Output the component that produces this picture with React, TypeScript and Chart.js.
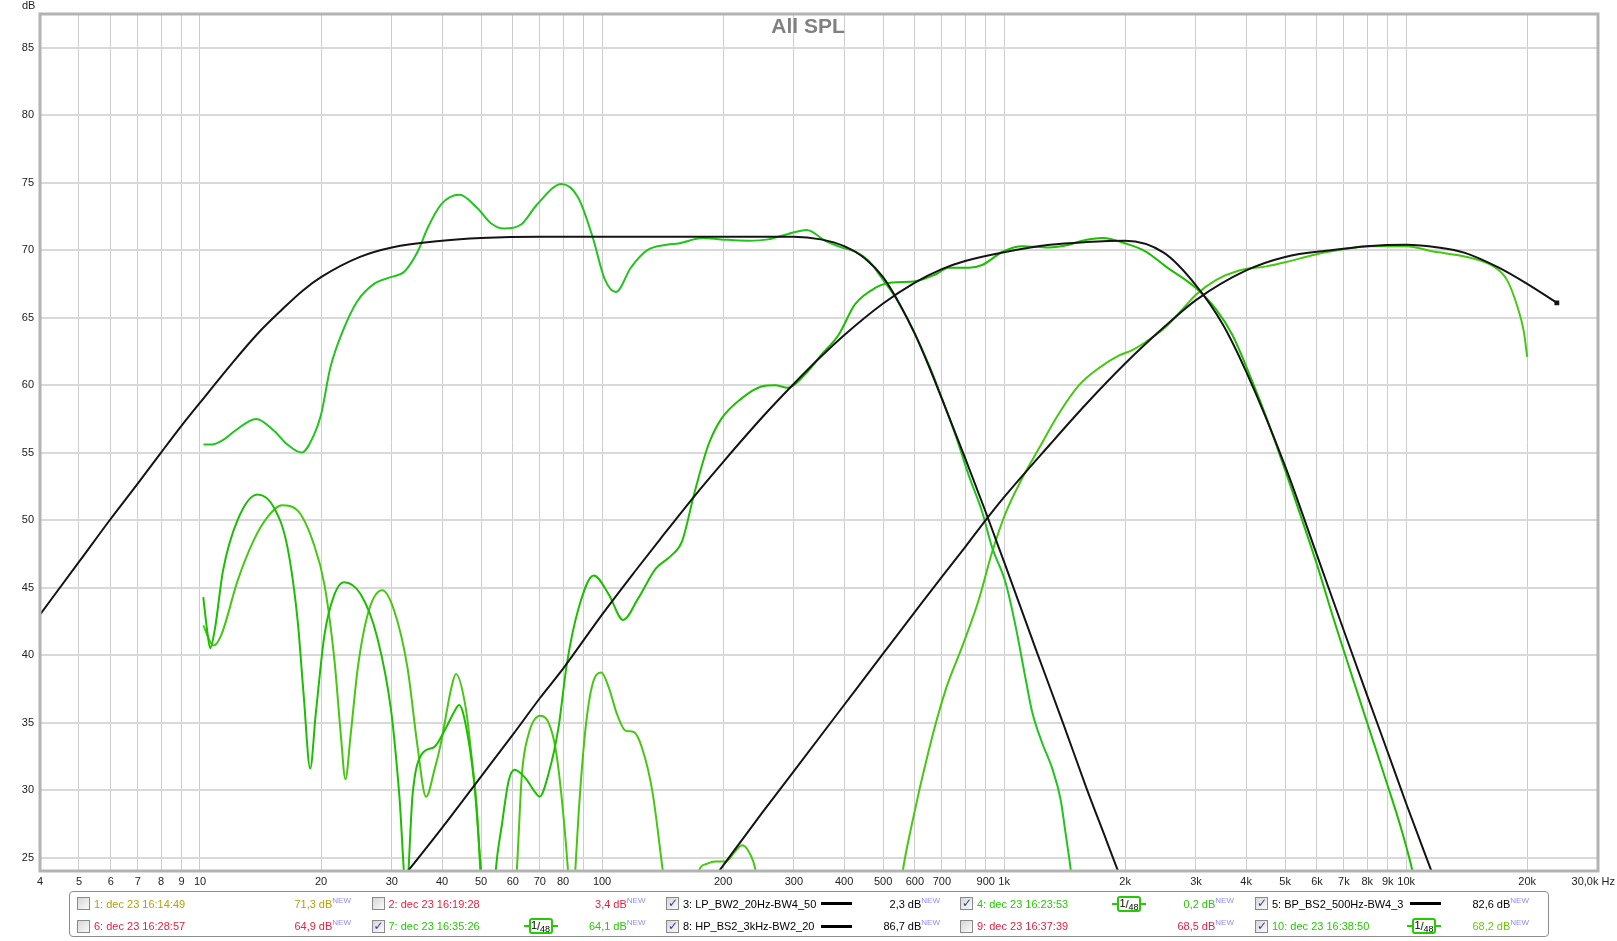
import React, { useEffect, useRef } from 'react';
import { Chart, registerables } from 'chart.js';

Chart.register(...registerables);

const W = 1617;
const H = 941;
const FONT = '"Liberation Sans", Arial, sans-serif';

// ---------- axes ----------
const xGridValues = [4, 5, 6, 7, 8, 9, 10, 20, 30, 40, 50, 60, 70, 80, 90, 100, 200, 300, 400, 500, 600, 700, 800, 900, 1000, 2000, 3000, 4000, 5000, 6000, 7000, 8000, 9000, 10000, 20000, 30000];
const xLabelValues = [4, 5, 6, 7, 8, 9, 10, 20, 30, 40, 50, 60, 70, 80, 100, 200, 300, 400, 500, 600, 700, 900, 1000, 2000, 3000, 4000, 5000, 6000, 7000, 8000, 9000, 10000, 20000];
const xLabelTexts = ['4', '5', '6', '7', '8', '9', '10', '20', '30', '40', '50', '60', '70', '80', '100', '200', '300', '400', '500', '600', '700', '900', '1k', '2k', '3k', '4k', '5k', '6k', '7k', '8k', '9k', '10k', '20k'];
const xEndLabel = '30,0k Hz';
const yTickValues = [25, 30, 35, 40, 45, 50, 55, 60, 65, 70, 75, 80, 85];

// ---------- series: 3: LP_BW2_20Hz-BW4_500 (black) ----------
const lpFreq = [4, 5, 6, 7, 8, 9, 10, 12, 14, 16, 18, 20, 25, 30, 40, 50, 70, 100, 150, 200, 250, 300, 350, 400, 450, 500, 550, 600, 650, 700, 800, 900, 1000, 1200, 1400, 1600, 1800, 2000];
const lpDb = [43.0, 46.9, 50.1, 52.7, 55.0, 57.0, 58.7, 61.6, 63.9, 65.6, 67.0, 68.0, 69.5, 70.2, 70.7, 70.9, 71.0, 71.0, 71.0, 71.0, 71.0, 71.0, 70.8, 70.3, 69.4, 68.0, 66.0, 63.8, 61.4, 59.0, 54.6, 50.6, 46.9, 40.4, 35.0, 30.2, 26.2, 22.6];

// ---------- 5: BP_BS2_500Hz-BW4_3k (black) ----------
const bpFreq = [30, 40, 50, 60, 70, 80, 100, 120, 140, 170, 200, 250, 300, 350, 400, 500, 600, 700, 800, 1000, 1300, 1600, 2000, 2500, 3000, 3500, 4000, 5000, 6000, 7000, 8000, 9000, 10000, 11000, 12000];
const bpDb = [22.5, 27.2, 31.0, 34.1, 36.8, 39.0, 43.0, 46.1, 48.65, 51.8, 54.3, 57.6, 60.1, 62.1, 63.7, 66.05, 67.6, 68.6, 69.2, 69.85, 70.4, 70.6, 70.7, 69.8, 67.4, 64.5, 61.0, 54.0, 47.4, 41.8, 37.0, 32.8, 29.0, 25.7, 22.7];

// ---------- 8: HP_BS2_3kHz-BW2_20k (black) ----------
const hpFreq = [190, 200, 250, 300, 400, 500, 600, 700, 800, 900, 1000, 1300, 1600, 2000, 2500, 3000, 4000, 5000, 6500, 8000, 10000, 12000, 14000, 17000, 20000, 23700];
const hpDb = [23.5, 24.4, 28.3, 31.4, 36.3, 40.1, 43.2, 45.8, 48.0, 50.0, 51.7, 55.6, 58.6, 61.6, 64.3, 66.3, 68.5, 69.5, 70.0, 70.3, 70.4, 70.2, 69.8, 68.7, 67.5, 66.1];

// ---------- 4: dec 23 16:23:53 (green, woofer) ----------
const aFreq = [10.2, 10.7, 11.5, 12.2, 13.8, 15.3, 16.5, 17.9, 19.2, 20.0, 21.1, 22.8, 24.6, 27.1, 29.8, 32.2, 34.8, 36.9, 39.8, 44.2, 49.0, 52.9, 57.1, 62.9, 69.0, 79.3, 87.2, 94.9, 101.4, 108.3, 117.9, 129.6, 145, 155, 178, 198, 231, 259, 290, 323, 359, 395, 427, 461, 497, 537, 591, 650, 701, 757, 817, 882, 933, 1008, 1067, 1130, 1174, 1243, 1317, 1382, 1422, 1463, 1500];
const aDb = [55.6, 55.6, 56.0, 56.6, 57.5, 56.6, 55.6, 55.0, 56.3, 57.8, 61.3, 64.2, 66.2, 67.5, 68.0, 68.4, 69.9, 71.7, 73.4, 74.1, 73.1, 72.0, 71.6, 71.9, 73.4, 74.9, 73.9, 70.9, 67.9, 66.9, 68.7, 70.0, 70.4, 70.5, 70.9, 70.8, 70.7, 70.8, 71.2, 71.5, 70.7, 70.2, 69.9, 69.2, 67.9, 66.5, 64.2, 61.5, 59.0, 56.3, 53.3, 50.6, 48.0, 45.4, 42.2, 38.3, 35.8, 33.5, 31.6, 29.3, 26.8, 24.2, 21.5];

// ---------- 7: dec 23 16:35:26 (green, mid) ----------
const bFreq = [10.19, 10.4, 10.6, 10.9, 11.4, 12.4, 13.9, 15.3, 16.5, 17.5, 18.1, 18.8, 19.4, 20.4, 21.6, 22.8, 25.1, 27.6, 29.9, 31.3, 32.6, 33.8, 35.5, 38.3, 40.9, 42.9, 44.1, 46.6, 48.3, 50.0, 52, 53, 54.2, 56.4, 58.6, 60.6, 64.4, 68.3, 69.9, 73.6, 77.9, 81.8, 87.5, 95.3, 103.9, 112.8, 123, 136, 149, 158, 170, 184, 198, 222, 249, 269, 290, 320, 352, 387, 426, 478, 526, 601, 675, 728, 817, 882, 994, 1109, 1292, 1449, 1564, 1756, 2004, 2251, 2523, 3000, 3371, 3700, 4075, 4492, 5000, 5440, 6000, 6580, 7000, 7976, 9000, 9660, 10330, 10700];
const bDb = [44.3, 42.0, 40.5, 42.0, 46.2, 50.0, 51.9, 50.9, 48.0, 42.5, 37.1, 31.6, 35.6, 41.5, 44.5, 45.4, 44.5, 41.3, 35.8, 29.7, 22.5, 29.7, 32.6, 33.2, 34.6, 35.8, 36.3, 33.6, 29.9, 24.0, 18, 18, 23.5, 27.5, 30.7, 31.5, 30.9, 29.8, 29.5, 31.2, 34.6, 39.4, 43.5, 45.9, 44.5, 42.6, 44.2, 46.4, 47.4, 48.4, 52.1, 55.6, 57.5, 59.0, 59.9, 60.0, 59.8, 60.8, 62.3, 63.7, 66.0, 67.2, 67.6, 67.7, 68.2, 68.7, 68.7, 68.9, 69.9, 70.3, 70.2, 70.4, 70.7, 70.9, 70.5, 69.9, 68.8, 67.2, 65.6, 63.7, 60.8, 57.6, 53.7, 50.5, 46.7, 42.8, 40.3, 35.1, 30.3, 27.4, 24.2, 22.0];

// ---------- 10: dec 23 16:38:50 (green, tweeter) ----------
const tFreq = [10.19, 10.8, 11.3, 12.4, 13.6, 14.7, 16.0, 17.5, 19.2, 20.4, 21.6, 22.4, 23.0, 23.7, 24.7, 26.3, 28.4, 30.4, 32.8, 34.7, 36.5, 38.3, 39.7, 42.2, 43.3, 45.8, 47.4, 48.8, 49.6, 51, 58, 61.2, 63.2, 65.6, 70.2, 73.6, 76.6, 79.5, 82.3, 84, 85, 87.5, 91, 94.6, 99.6, 103.9, 109, 114.3, 119.9, 125.8, 133.4, 141.6, 150, 165, 174, 181, 191, 203, 215, 223, 232, 241, 255, 400, 530, 557, 589, 649, 715, 786, 865, 933, 1008, 1109, 1220, 1369, 1536, 1727, 1933, 2084, 2250, 2523, 2831, 3000, 3371, 3841, 4492, 5000, 5985, 7100, 7976, 10000, 11700, 14170, 16500, 17810, 18870, 19610, 20000];
const tDb = [42.2, 40.7, 41.5, 45.5, 48.5, 50.2, 51.1, 50.7, 48.2, 45.2, 39.6, 34.1, 30.8, 34.1, 39.1, 43.3, 44.8, 43.3, 39.1, 33.4, 29.5, 31.5, 33.4, 37.6, 38.6, 36.1, 32.4, 28.7, 25.0, 18, 18, 23.5, 31.2, 34.1, 35.5, 35.0, 33.1, 29.2, 24.0, 20, 22, 28.4, 34.6, 37.8, 38.7, 37.6, 35.6, 34.4, 34.3, 33.1, 29.9, 24.0, 18, 18, 24.0, 24.5, 24.7, 24.7, 25.5, 25.9, 25.4, 24.0, 18, 5, 18, 23.6, 27.4, 32.9, 37.4, 40.6, 44.1, 47.6, 50.5, 53.1, 55.3, 57.9, 60.0, 61.3, 62.2, 62.6, 63.2, 64.3, 65.9, 66.7, 67.8, 68.5, 68.8, 69.1, 69.7, 70.1, 70.3, 70.3, 69.9, 69.5, 68.8, 67.8, 65.9, 64.0, 62.1];

// ---------- legend ----------
const legendLabels = [
  '1: dec 23 16:14:49', '2: dec 23 16:19:28', '3: LP_BW2_20Hz-BW4_50', '4: dec 23 16:23:53', '5: BP_BS2_500Hz-BW4_3',
  '6: dec 23 16:28:57', '7: dec 23 16:35:26', '8: HP_BS2_3kHz-BW2_20', '9: dec 23 16:37:39', '10: dec 23 16:38:50',
];
const legendValues = ['71,3 dB', '3,4 dB', '2,3 dB', '0,2 dB', '82,6 dB', '64,9 dB', '64,1 dB', '86,7 dB', '68,5 dB', '68,2 dB'];
const legendChecked = [false, false, true, true, true, false, true, true, false, true];
const legendColors = ['#b3a100', '#ee1c3c', '#000000', '#22cc00', '#000000', '#ee1c3c', '#22cc00', '#000000', '#ee1c3c', '#22cc00'];
const legendValueColors = ['#b3a100', '#ee1c3c', '#000000', '#22cc00', '#000000', '#ee1c3c', '#22cc00', '#000000', '#ee1c3c', '#66cc00'];
const legendMarks = ['', '', 'line', 'badge', 'line', '', 'badge', 'line', '', 'badge'];

const LEG_COL_X = [77, 371.5, 666, 960, 1255];
const LEG_ROW_Y = [903.5, 926];

const zip = (f: number[], d: number[]) => f.map((x, i) => ({ x, y: d[i] }));

const xLabelFor = (v: number) => {
  const i = xLabelValues.indexOf(v);
  return i >= 0 ? xLabelTexts[i] : '';
};

const framePlugin = {
  id: 'frame',
  afterDraw(chart: any) {
    const { ctx, chartArea: a } = chart;
    ctx.save();
    ctx.strokeStyle = '#b3b3b3';
    ctx.lineWidth = 3;
    ctx.strokeRect(a.left, a.top, a.right - a.left, a.bottom - a.top);
    ctx.restore();
  },
};

function CheckBox({ checked, x, y }: { checked: boolean; x: number; y: number }) {
  return (
    <div
      style={{
        position: 'absolute', left: x, top: y, width: 11, height: 11,
        border: '1px solid #8a8a8a', background: 'linear-gradient(135deg,#d6d6d6,#fbfbfb)',
      }}
    >
      {checked && (
        <span style={{ position: 'absolute', left: 1, top: -2, fontSize: 12, lineHeight: '14px', fontWeight: 'bold', fontFamily: '"DejaVu Sans", sans-serif', color: '#2b3f93' }}>✓</span>
      )}
    </div>
  );
}

function Badge({ x, cy }: { x: number; cy: number }) {
  return (
    <div style={{ position: 'absolute', left: x, top: cy - 8, width: 34, height: 16 }}>
      <div style={{ position: 'absolute', left: 0, right: 0, top: 7, height: 2, background: '#22cc00' }} />
      <div
        style={{
          position: 'absolute', left: 5, top: 0, width: 20, height: 12, border: '2px solid #22cc00', borderRadius: 3,
          background: '#fff', fontSize: 9, lineHeight: '12px', textAlign: 'center', color: '#000', fontFamily: FONT, whiteSpace: 'nowrap',
        }}
      >
        <span style={{ fontSize: 11, position: 'relative', top: -1 }}>1</span>
        <span style={{ fontSize: 11 }}>/</span>
        <span style={{ position: 'relative', top: 2 }}>48</span>
      </div>
    </div>
  );
}

export default function App() {
  const ref = useRef<HTMLCanvasElement | null>(null);

  useEffect(() => {
    const canvas = ref.current;
    if (!canvas) return;
    const black = '#141414';
    const mk = (label: string, f: number[], d: number[], color: string, extra: any = {}) => ({
      label,
      data: zip(f, d),
      borderColor: color,
      backgroundColor: color,
      borderWidth: 2,
      pointRadius: 0,
      fill: false,
      cubicInterpolationMode: 'monotone',
      ...extra,
    });
    const chart = new Chart(canvas, {
      type: 'line',
      data: {
        datasets: [
          mk('3: LP_BW2_20Hz-BW4_50', lpFreq, lpDb, black),
          mk('5: BP_BS2_500Hz-BW4_3', bpFreq, bpDb, black),
          mk('8: HP_BS2_3kHz-BW2_20', hpFreq, hpDb, black, {
            pointRadius: hpFreq.map((_, i) => (i === hpFreq.length - 1 ? 2 : 0)),
            pointStyle: 'rect',
          }),
          mk('4: dec 23 16:23:53', aFreq, aDb, '#22c41e'),
          mk('7: dec 23 16:35:26', bFreq, bDb, '#1cbf00'),
          mk('10: dec 23 16:38:50', tFreq, tDb, '#44c810'),
        ] as any,
      },
      options: {
        animation: false,
        responsive: false,
        devicePixelRatio: 1,
        layout: { padding: { left: 0, right: 19, top: 14, bottom: 0 } },
        plugins: { legend: { display: false }, tooltip: { enabled: false }, title: { display: false } },
        scales: {
          x: {
            type: 'logarithmic',
            min: 4,
            max: 30000,
            afterBuildTicks: (s: any) => { s.ticks = xGridValues.map((v) => ({ value: v })); },
            afterFit: (s: any) => { s.height = 70; s.paddingLeft = 0; s.paddingRight = 0; },
            ticks: {
              autoSkip: false, maxRotation: 0, minRotation: 0, padding: 4, color: '#222',
              font: { family: FONT, size: 11 },
              callback: (v: any) => xLabelFor(Number(v)),
            },
            grid: { color: '#cdcdcd', lineWidth: 1, drawTicks: false },
            border: { display: false },
          },
          y: {
            type: 'linear',
            min: 24,
            max: 87.5,
            afterBuildTicks: (s: any) => { s.ticks = yTickValues.map((v) => ({ value: v })); },
            afterFit: (s: any) => { s.width = 40; s.paddingTop = 0; s.paddingBottom = 0; },
            ticks: { padding: 6, color: '#222', font: { family: FONT, size: 11 }, callback: (v: any) => String(v) },
            grid: { color: '#d9d9d9', lineWidth: 2, drawTicks: false },
            border: { display: false },
          },
        },
      } as any,
      plugins: [framePlugin],
    });
    return () => chart.destroy();
  }, []);

  return (
    <div style={{ position: 'absolute', left: 0, top: 0, width: W, height: H, fontFamily: FONT, background: '#fff' }}>
      <canvas ref={ref} width={W} height={H} style={{ position: 'absolute', left: 0, top: 0, width: W, height: H }} />
      <div style={{ position: 'absolute', left: 22, top: 0, fontSize: 11, lineHeight: '11px', color: '#222' }}>dB</div>
      <div style={{ position: 'absolute', left: 1560, width: 55, top: 875, textAlign: 'right', fontSize: 11, lineHeight: '13px', color: '#222', whiteSpace: 'nowrap' }}>{xEndLabel}</div>
      <div style={{ position: 'absolute', left: 708, width: 200, top: 15, textAlign: 'center', fontSize: 21, lineHeight: '21px', fontWeight: 'bold', color: '#808080' }}>All SPL</div>
      <div style={{ position: 'absolute', left: 69, top: 891, width: 1480, height: 46, border: '1px solid #8c8c8c', borderRadius: 4, boxSizing: 'border-box' }} />
      {legendLabels.map((lab, i) => {
        const col = i % 5;
        const row = Math.floor(i / 5);
        const cx = LEG_COL_X[col];
        const cy = LEG_ROW_Y[row];
        return (
          <React.Fragment key={lab}>
            <CheckBox checked={legendChecked[i]} x={cx} y={cy - 6.5} />
            <div style={{ position: 'absolute', left: cx + 17, top: cy - 7, fontSize: 11, lineHeight: '14px', color: legendColors[i], whiteSpace: 'nowrap' }}>{lab}</div>
            {legendMarks[i] === 'line' && (
              <div style={{ position: 'absolute', left: cx + 155, top: cy - 1.5, width: 31, height: 3, background: '#000' }} />
            )}
            {legendMarks[i] === 'badge' && <Badge x={cx + 152} cy={cy} />}
            <div style={{ position: 'absolute', left: cx + 170, width: 104, top: cy - 7, textAlign: 'right', fontSize: 11, lineHeight: '14px', color: legendValueColors[i], whiteSpace: 'nowrap' }}>
              {legendValues[i]}
              <span style={{ fontSize: 8, color: '#8c8cff', position: 'relative', top: -5 }}>NEW</span>
            </div>
          </React.Fragment>
        );
      })}
    </div>
  );
}
